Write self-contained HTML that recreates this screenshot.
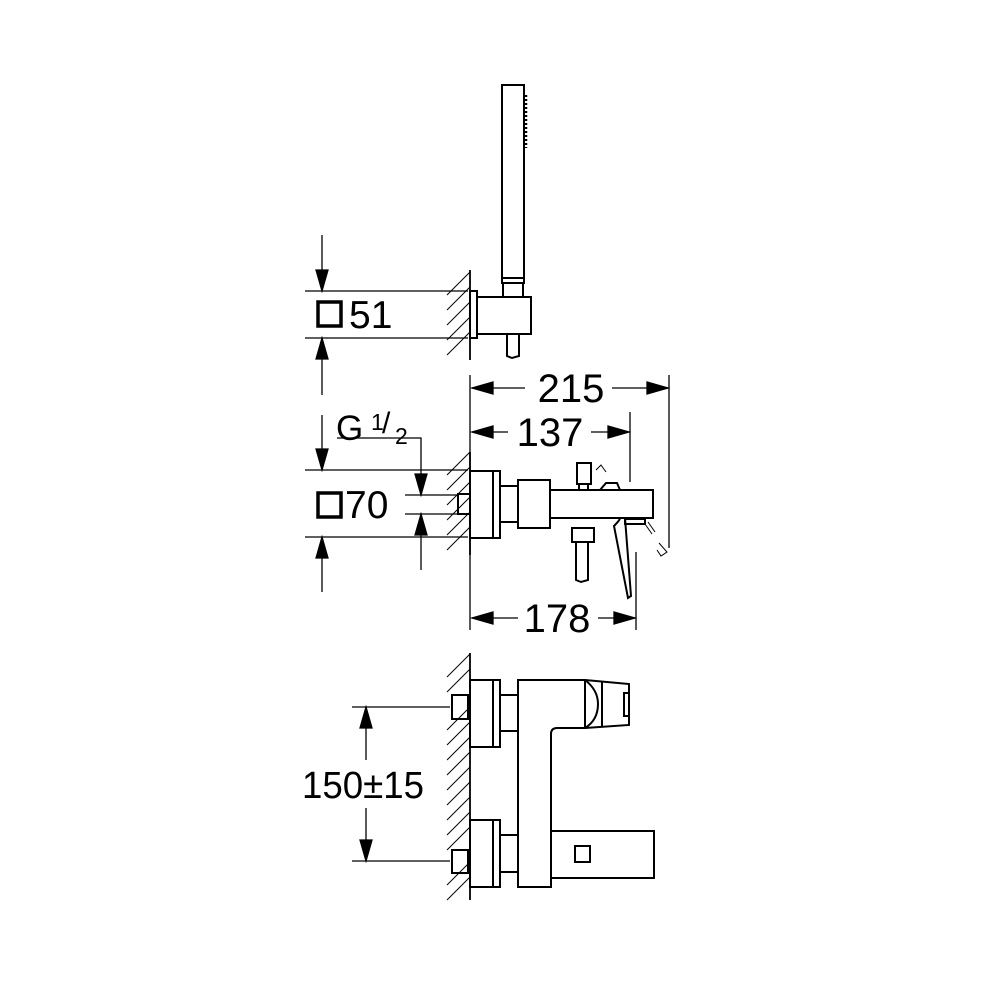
<!DOCTYPE html>
<html><head><meta charset="utf-8"><style>
html,body{margin:0;padding:0;background:#fff;}
svg{display:block}
text{font-family:"Liberation Sans",sans-serif;fill:#000}
</style></head><body>
<svg width="1000" height="1000" viewBox="0 0 1000 1000" xmlns="http://www.w3.org/2000/svg">
<g fill="none" stroke="#000" stroke-width="1.3">
<!-- top dims -->
<line x1="305" y1="291" x2="468" y2="291"/>
<line x1="305" y1="338" x2="468" y2="338"/>
<line x1="322" y1="235" x2="322" y2="290"/>
<path d="M316,270 L322,291 L328,270 Z" fill="#000"/>
<line x1="322" y1="340" x2="322" y2="395"/>
<path d="M316,359 L322,338 L328,359 Z" fill="#000"/>
<!-- wall top -->
<line x1="470" y1="270" x2="470" y2="360" stroke-width="1.8"/>
<g stroke-width="1">
<line x1="447" y1="295" x2="470" y2="272"/>
<line x1="447" y1="310" x2="470" y2="287"/>
<line x1="447" y1="325" x2="470" y2="302"/>
<line x1="447" y1="340" x2="470" y2="317"/>
<line x1="447" y1="355" x2="470" y2="332"/>
</g>
<g stroke-width="2">
<rect x="470" y="291" width="7" height="47"/>
<rect x="477" y="297" width="54" height="37"/>
<rect x="502" y="85" width="22" height="193"/>
<rect x="502" y="278" width="22" height="5"/>
<rect x="503" y="283" width="20" height="14"/>
<path d="M507,334 L507,356 L512,358 L519,356 L519,334"/>
</g>
<path d="M526,95 V148" stroke-width="2.5" stroke-dasharray="2,2"/>

<!-- middle dims -->
<line x1="470" y1="375" x2="470" y2="630"/>
<line x1="669" y1="375" x2="669" y2="548"/>
<line x1="630" y1="412" x2="630" y2="482"/>
<line x1="636" y1="552" x2="636" y2="630"/>
<line x1="472" y1="388" x2="525" y2="388"/>
<line x1="612" y1="388" x2="668" y2="388"/>
<path d="M472,388 l21,-6 v12 Z M668,388 l-21,-6 v12 Z" fill="#000"/>
<line x1="472" y1="432" x2="508" y2="432"/>
<line x1="591" y1="432" x2="629" y2="432"/>
<path d="M472,432 l21,-6 v12 Z M629,432 l-21,-6 v12 Z" fill="#000"/>
<line x1="472" y1="618" x2="518" y2="618"/>
<line x1="598" y1="618" x2="635" y2="618"/>
<path d="M472,618 l21,-6 v12 Z M635,618 l-21,-6 v12 Z" fill="#000"/>

<line x1="305" y1="470" x2="468" y2="470"/>
<line x1="305" y1="537" x2="468" y2="537"/>
<line x1="405" y1="495" x2="458" y2="495"/>
<line x1="405" y1="514" x2="458" y2="514"/>
<line x1="322" y1="415" x2="322" y2="469"/>
<path d="M316,449 L322,470 L328,449 Z" fill="#000"/>
<line x1="322" y1="539" x2="322" y2="592"/>
<path d="M316,558 L322,537 L328,558 Z" fill="#000"/>
<polyline points="337,438 421,438 421,494"/>
<path d="M415,474 L421,495 L427,474 Z" fill="#000"/>
<line x1="421" y1="515" x2="421" y2="570"/>
<path d="M415,535 L421,514 L427,535 Z" fill="#000"/>

<!-- wall middle -->
<line x1="470" y1="452" x2="470" y2="555" stroke-width="1.8"/>
<g stroke-width="1">
<line x1="447" y1="475" x2="470" y2="452"/>
<line x1="447" y1="490" x2="470" y2="467"/>
<line x1="447" y1="505" x2="470" y2="482"/>
<line x1="447" y1="520" x2="470" y2="497"/>
<line x1="447" y1="535" x2="470" y2="512"/>
<line x1="447" y1="550" x2="470" y2="527"/>
</g>
<g stroke-width="2">
<rect x="458" y="494" width="12" height="20"/>
<rect x="470" y="471" width="30" height="67"/>
<line x1="493" y1="471" x2="493" y2="538"/>
<rect x="500" y="486" width="18" height="36"/>
<rect x="518" y="480" width="32" height="48"/>
<rect x="550" y="490" width="103" height="28"/>
<rect x="577" y="463" width="14" height="21"/>
<rect x="579" y="484" width="9" height="6"/>
<path d="M600,490 L606,483 L617,483 L620,490"/>
<rect x="572" y="528" width="22" height="14"/>
<path d="M576,542 V580 L581,582 L588,580 V542"/>
<path d="M614,526 Q620,520 620,518 L625,518 L631,596 L628,598 Z"/>
<rect x="625" y="519" width="20" height="5"/>
</g>
<g stroke-width="1">
<path d="M596,470 L601,465 L606,472"/>
<path d="M645,524 L652,534 M648,522 L655,532"/>
<path d="M659,543 L667,552 L661,556 L657,550"/>
</g>

<!-- bottom -->
<line x1="470" y1="653" x2="470" y2="900" stroke-width="1.8"/>
<g stroke-width="1">
<line x1="447" y1="677" x2="470" y2="654"/>
<line x1="447" y1="692" x2="470" y2="669"/>
<line x1="447" y1="730" x2="470" y2="707"/>
<line x1="447" y1="745" x2="470" y2="722"/>
<line x1="447" y1="760" x2="470" y2="737"/>
<line x1="447" y1="775" x2="470" y2="752"/>
<line x1="447" y1="790" x2="470" y2="767"/>
<line x1="447" y1="805" x2="470" y2="782"/>
<line x1="447" y1="820" x2="470" y2="797"/>
<line x1="447" y1="835" x2="470" y2="812"/>
<line x1="447" y1="850" x2="470" y2="827"/>
<line x1="447" y1="885" x2="470" y2="862"/>
<line x1="447" y1="900" x2="470" y2="877"/>
</g>
<line x1="352" y1="707" x2="450" y2="707"/>
<line x1="352" y1="861" x2="450" y2="861"/>
<line x1="366" y1="709" x2="366" y2="760"/>
<path d="M360,728 L366,707 L372,728 Z" fill="#000"/>
<line x1="366" y1="808" x2="366" y2="859"/>
<path d="M360,840 L366,861 L372,840 Z" fill="#000"/>
<g stroke-width="2">
<rect x="452" y="695" width="16" height="24"/>
<rect x="452" y="850" width="16" height="23"/>
<rect x="470" y="680" width="30" height="67"/>
<line x1="493" y1="680" x2="493" y2="747"/>
<rect x="500" y="695" width="18" height="36"/>
<rect x="470" y="820" width="30" height="67"/>
<line x1="493" y1="820" x2="493" y2="887"/>
<rect x="500" y="835" width="18" height="37"/>
<path d="M518,680 H585 V728 H557 Q551,728 551,734 V887 H518 Z"/>
<path d="M585,680 L629,684 V725 L585,728"/>
<path d="M585,680 Q598,690 598,704 Q598,720 585,728"/>
<line x1="602" y1="682" x2="602" y2="727"/>
<rect x="624" y="693" width="5" height="23"/>
<rect x="551" y="831" width="103" height="47"/>
<rect x="575" y="846" width="15" height="16"/>
</g>
<rect x="318" y="302" width="23" height="24" stroke-width="3.5"/>
<rect x="318" y="493" width="23" height="24" stroke-width="3.5"/>
</g>
<text x="349" y="328" font-size="39">51</text>
<text x="345" y="518" font-size="39">70</text>
<text x="336" y="440" font-size="35">G</text>
<text x="371" y="430" font-size="23">1</text>
<text x="382" y="433" font-size="30">/</text>
<text x="395" y="444" font-size="23">2</text>
<text x="571" y="402" font-size="40" text-anchor="middle">215</text>
<text x="550" y="446" font-size="40" text-anchor="middle">137</text>
<text x="557" y="632" font-size="40" text-anchor="middle">178</text>
<text x="363" y="798" font-size="38" text-anchor="middle" textLength="122" lengthAdjust="spacingAndGlyphs">150±15</text>
</svg>
</body></html>
